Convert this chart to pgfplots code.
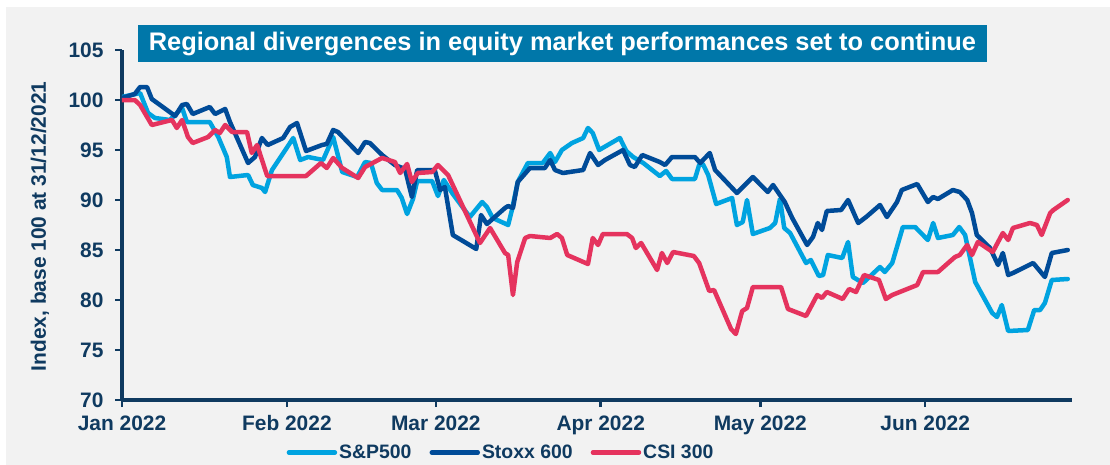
\documentclass[border=0pt]{standalone}
\usepackage{pgfplots}
\pgfplotsset{compat=1.18}
\usepackage{fontspec}
\setmainfont{Liberation Sans}
\definecolor{spblue}{HTML}{00A3E0}
\definecolor{stoxx}{HTML}{004B98}
\definecolor{csired}{HTML}{E5335E}
\definecolor{navy}{HTML}{0F3A60}
\definecolor{titlebg}{HTML}{0077A9}
\definecolor{bg}{HTML}{F2F2F2}
\begin{document}
\begin{tikzpicture}
\path[use as bounding box] (-122bp,-65bp) rectangle (988bp,400bp);
\fill[white] (-122bp,-65bp) rectangle (988bp,400bp);
\fill[bg] (-116bp,-65bp) rectangle (988bp,393bp);
\begin{axis}[
  scale only axis, width=950bp, height=350bp,
  xmin=0, xmax=178.6, ymin=70, ymax=105,
  axis x line=bottom, axis y line=left,
  axis line style={-, navy, line width=3.5bp},
  xtick={0,31,59,90,120,151},
  xticklabels={Jan 2022,Feb 2022,Mar 2022,Apr 2022,May 2022,Jun 2022},
  ytick={70,75,80,85,90,95,100,105},
  tick align=outside, major tick length=7bp,
  tick style={navy, line width=2.5bp},
  /pgf/number format/assume math mode=true,
  ticklabel style={font=\fontsize{21}{25}\selectfont\bfseries, text=navy},
  yticklabel style={xshift=-8bp},
  xticklabel style={yshift=-5bp},
  ylabel={Index, base 100 at 31/12/2021},
  ylabel style={at={(axis description cs:-0.0863,0.496)}, anchor=center, font=\fontsize{21}{25}\selectfont\bfseries, text=navy},
  legend columns=3,
  legend style={at={(axis description cs:0.399,-0.150)}, anchor=center, draw=none, fill=none,
    font=\fontsize{19.5}{22}\selectfont\bfseries, text=navy, inner ysep=0pt,
    /tikz/every even column/.append style={column sep=16bp}},
  legend image code/.code={\draw[#1, line cap=round] (0bp,0bp) -- (46bp,0bp);},
  every axis plot/.append style={line width=4.5bp, line join=round, line cap=round},
]
\addplot[spblue] coordinates {
(0,100.3)(3.4,100.7)(4.9,98.7)(6.2,98.2)(9.0,98.0)(11.3,99.2)(12.2,97.8)(16.5,97.8)(18.1,96.3)(19.7,94.3)(20.3,92.3)(23.7,92.5)(24.6,91.5)(26.3,91.2)(26.9,90.8)(28.2,93.0)(32.2,96.2)(33.5,94.0)(35.0,94.3)(37.8,94.0)(39.7,96.3)(41.4,92.8)(44.2,92.3)(45.7,93.8)(46.8,93.7)(47.9,91.7)(48.9,91.0)(51.7,91.0)(52.6,90.2)(53.6,88.6)(54.7,90.1)(55.5,91.9)(58.3,91.9)(59.4,90.4)(60.5,92.0)(62.2,90.6)(65.4,88.3)(67.7,89.8)(68.6,89.3)(69.7,88.2)(72.6,87.5)(73.3,89.0)(74.4,91.8)(76.3,93.7)(79.1,93.7)(80.5,94.7)(81.4,93.8)(82.7,95.0)(84.6,95.7)(86.7,96.2)(87.6,97.2)(88.5,96.7)(89.7,95.0)(93.6,96.2)(94.8,94.9)(96.1,94.3)(98.0,93.7)(101.1,92.4)(102.3,92.9)(103.4,92.1)(107.7,92.1)(108.5,93.5)(109.2,93.6)(110.2,92.5)(111.7,89.6)(114.7,90.2)(115.6,87.5)(116.7,87.8)(117.5,90.0)(118.6,86.6)(121.8,87.2)(122.8,87.7)(123.7,90.1)(124.5,87.2)(125.6,86.7)(128.6,83.7)(129.5,84.0)(131.0,82.4)(131.8,82.5)(132.7,84.5)(135.4,84.2)(136.5,85.8)(137.4,82.3)(139.3,81.7)(142.5,83.3)(143.4,82.8)(144.8,83.7)(146.8,87.3)(149.1,87.3)(151.5,86.0)(152.5,87.7)(153.4,86.2)(156.2,86.5)(157.4,87.3)(158.5,86.5)(160.4,81.8)(163.6,78.7)(164.5,78.3)(165.4,79.5)(166.6,76.9)(170.3,77.0)(171.5,79.0)(172.6,79.0)(173.5,79.7)(174.8,82.0)(177.8,82.1)
};
\addlegendentry{S\&P500}
\addplot[stoxx] coordinates {
(0,100.2)(2.4,100.6)(3.4,101.3)(4.7,101.3)(5.6,100.1)(10.0,98.4)(11.3,99.5)(12.2,99.6)(13.3,98.6)(16.5,99.3)(17.5,98.6)(19.4,99.1)(20.3,97.8)(21.8,96.0)(23.7,93.7)(25.0,94.3)(26.3,96.2)(27.4,95.5)(30.3,96.2)(31.6,97.3)(32.9,97.7)(34.6,94.9)(37.6,95.5)(38.5,95.6)(39.7,97.0)(40.6,96.8)(44.4,94.7)(45.7,95.8)(46.6,95.7)(48.9,94.5)(51.3,93.5)(53.2,93.1)(54.5,90.3)(55.5,93.0)(58.8,93.0)(59.8,91.0)(60.7,91.3)(62.2,86.5)(66.6,85.1)(67.5,88.5)(68.6,87.6)(72.0,89.2)(72.6,89.4)(73.5,89.2)(74.4,91.8)(76.7,93.2)(79.5,93.2)(80.5,94.0)(81.4,93.0)(82.9,92.7)(86.7,93.0)(88.0,94.7)(89.5,93.5)(90.8,94.0)(94.2,95.0)(95.5,93.5)(96.4,93.3)(97.8,94.5)(101.1,93.8)(102.1,93.5)(103.4,94.3)(107.7,94.3)(108.7,93.7)(110.5,94.7)(111.5,93.0)(115.6,90.7)(118.6,92.3)(121.4,90.8)(122.4,91.5)(124.6,89.8)(126.0,88.2)(128.8,85.5)(129.9,86.3)(130.8,87.7)(131.6,87.0)(132.5,88.9)(135.2,89.0)(136.5,90.0)(138.4,87.7)(139.9,88.3)(142.5,89.5)(143.8,88.3)(145.7,89.8)(146.6,91.0)(149.5,91.6)(151.5,89.8)(152.5,90.3)(153.4,90.1)(156.2,91.0)(157.5,90.8)(158.9,90.0)(159.8,88.7)(160.7,86.5)(163.2,85.2)(164.7,83.5)(165.6,84.7)(166.6,82.5)(167.5,82.7)(171.3,83.7)(173.5,82.3)(174.8,84.7)(177.8,85.0)
};
\addlegendentry{Stoxx 600}
\addplot[csired] coordinates {
(0,100)(2.4,100)(3.4,99.5)(5.6,97.5)(9.4,98.0)(10.3,97.2)(11.3,98.0)(12.4,96.3)(13.3,95.7)(16.2,96.3)(17.5,97.0)(18.4,96.7)(19.4,97.5)(20.7,96.8)(23.5,96.8)(24.4,94.7)(25.4,95.5)(27.3,92.4)(34.6,92.4)(37.4,93.7)(38.5,93.2)(39.7,94.2)(41.4,93.2)(44.4,92.2)(45.7,93.3)(48.9,94.2)(51.3,93.8)(52.3,92.7)(53.6,93.6)(54.5,91.8)(55.6,92.7)(58.3,92.8)(59.4,93.5)(61.3,92.5)(65.0,88.3)(67.3,85.7)(69.2,87.2)(72.0,84.7)(72.6,84.5)(73.5,80.5)(74.3,83.8)(75.8,86.2)(76.7,86.4)(80.5,86.2)(81.8,86.6)(82.7,86.2)(83.7,84.5)(87.6,83.6)(88.5,86.2)(89.5,85.5)(90.4,86.6)(94.9,86.6)(95.9,86.2)(96.6,85.2)(97.6,85.7)(100.6,83.0)(101.5,84.7)(102.5,83.7)(103.6,84.8)(107.5,84.4)(108.5,83.7)(110.4,80.9)(111.3,81.0)(114.5,77.1)(115.4,76.6)(116.6,78.9)(117.5,79.2)(118.6,81.3)(123.9,81.3)(125.2,79.1)(128.6,78.4)(130.7,80.5)(131.6,80.2)(132.5,80.8)(135.5,80.1)(136.7,81.1)(138.0,80.8)(139.5,82.5)(142.3,82.0)(143.6,80.1)(144.8,80.5)(149.5,81.5)(150.6,82.8)(153.4,82.8)(156.6,84.3)(157.5,84.5)(158.9,85.5)(159.8,84.5)(160.9,85.8)(163.7,84.8)(165.6,86.7)(166.6,86.0)(167.5,87.2)(170.7,87.7)(172.0,87.5)(172.9,86.5)(174.5,88.7)(175.1,89.0)(177.8,90.0)
};
\addlegendentry{CSI 300}
\end{axis}
\node[fill=titlebg, text=white, font=\fontsize{25.5}{30}\selectfont\bfseries, minimum width=849bp, minimum height=37bp, inner sep=0pt] at (440.5bp,356.5bp) {Regional divergences in equity market performances set to continue};
\end{tikzpicture}
\end{document}
